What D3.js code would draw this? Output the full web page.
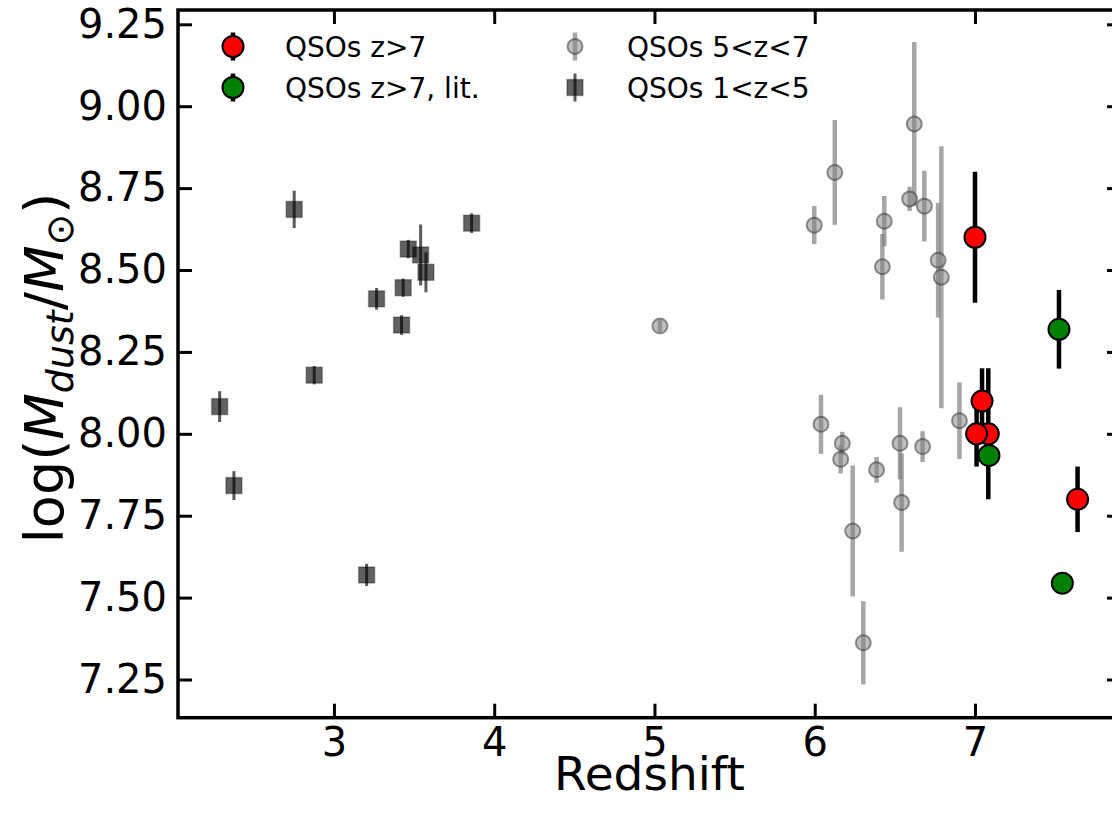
<!DOCTYPE html>
<html>
<head>
<meta charset="utf-8">
<script src="https://cdn.jsdelivr.net/npm/d3@7"></script>
<style>
  body { margin: 0; background: #fff; }
  svg { display: block; font-family: 'DejaVu Sans', sans-serif; }
  .axis text { font-size: 40px; fill: #000; }
  .axis line { stroke: #000; stroke-width: 3px; }
  .legend text { font-size: 28px; }
</style>
</head>
<body>
<div id="chart"></div>
<script>
// QSOs z>7 (this work)
const redZ   = [7.00, 7.083, 7.01, 7.044, 7.64];
const redM   = [8.60, 8.00, 8.00, 8.10, 7.80];
const redErr = [0.20, 0.20, 0.10, 0.10, 0.10];

// QSOs z>7, literature
const greenZ   = [7.087, 7.524, 7.545];
const greenM   = [7.934, 8.319, 7.544];
const greenErr = [0.03, 0.12, 0.0];

// QSOs 5<z<7
const midZ   = [5.034, 5.997, 6.125, 6.621, 6.592, 6.684, 6.434, 6.422, 6.77, 6.79,
                6.039, 6.172, 6.162, 6.386, 6.237, 6.303, 6.532, 6.542, 6.673, 6.903];
const midM   = [8.329, 8.637, 8.798, 8.946, 8.717, 8.695, 8.649, 8.51, 8.53, 8.478,
                8.029, 7.971, 7.922, 7.89, 7.703, 7.362, 7.971, 7.79, 7.961, 8.04];
const midErr = [0.02, 0.058, 0.16, 0.25, 0.037, 0.108, 0.077, 0.10, 0.175, 0.40,
                0.09, 0.035, 0.043, 0.039, 0.20, 0.127, 0.11, 0.15, 0.047, 0.117];

// QSOs 1<z<5
const lowZ   = [2.752, 3.859, 3.464, 3.541, 3.574, 3.432, 3.266, 3.422, 2.877, 2.287, 2.376, 3.204];
const lowM   = [8.685, 8.643, 8.564, 8.546, 8.493, 8.446, 8.412, 8.332, 8.179, 8.083, 7.842, 7.569];
const lowErr = [0.057, 0.03, 0.028, 0.093, 0.061, 0.028, 0.033, 0.03, 0.028, 0.047, 0.044, 0.034];

const xTicks = [3, 4, 5, 6, 7];
const yTicks = [7.25, 7.50, 7.75, 8.00, 8.25, 8.50, 8.75, 9.00, 9.25];

const legendLabels = ['QSOs z>7', 'QSOs z>7, lit.', 'QSOs 5<z<7', 'QSOs 1<z<5'];

class DustPlot {

  constructor(_config) {
    this.config = {
      parentElement: _config.parentElement,
      containerWidth: 1112,
      containerHeight: 816,
      // right spine sits just outside the picture, like the reference
      margin: { top: 10, right: -9, bottom: 98.3, left: 178 }
    };
    this.initVis();
  }

  initVis() {
    let vis = this;

    vis.width = vis.config.containerWidth - vis.config.margin.left - vis.config.margin.right;
    vis.height = vis.config.containerHeight - vis.config.margin.top - vis.config.margin.bottom;

    vis.xScale = d3.scaleLinear()
      .domain([2.027, 7.911])
      .range([0, vis.width]);

    vis.yScale = d3.scaleLinear()
      .domain([7.1334, 9.2937])
      .range([vis.height, 0]);

    vis.svg = d3.select(vis.config.parentElement).append('svg')
      .attr('width', vis.config.containerWidth)
      .attr('height', vis.config.containerHeight);

    vis.chart = vis.svg.append('g')
      .attr('transform', `translate(${vis.config.margin.left},${vis.config.margin.top})`);

    // ticks point inward on all four sides
    const fmtY = d3.format('.2f');
    vis.chart.append('g')
      .attr('class', 'axis x-axis')
      .attr('transform', `translate(0,${vis.height})`)
      .call(d3.axisBottom(vis.xScale).tickValues(xTicks).tickFormat(d3.format('d'))
        .tickSizeInner(-14).tickSizeOuter(0).tickPadding(10));

    vis.chart.append('g')
      .attr('class', 'axis')
      .call(d3.axisTop(vis.xScale).tickValues(xTicks).tickFormat('')
        .tickSizeInner(-14).tickSizeOuter(0));

    vis.chart.append('g')
      .attr('class', 'axis y-axis')
      .call(d3.axisLeft(vis.yScale).tickValues(yTicks).tickFormat(fmtY)
        .tickSizeInner(-14).tickSizeOuter(0).tickPadding(11));

    vis.chart.append('g')
      .attr('class', 'axis')
      .attr('transform', `translate(${vis.width},0)`)
      .call(d3.axisRight(vis.yScale).tickValues(yTicks).tickFormat('')
        .tickSizeInner(-14).tickSizeOuter(0));

    vis.chart.selectAll('.axis .domain').remove();
    vis.chart.selectAll('.axis text').attr('font-family', 'DejaVu Sans');

    vis.chart.append('rect')
      .attr('width', vis.width)
      .attr('height', vis.height)
      .attr('fill', 'none')
      .attr('stroke', '#000')
      .attr('stroke-width', 3.5);

    // axis titles
    vis.svg.append('text')
      .attr('x', vis.config.margin.left + vis.width / 2)
      .attr('y', 790)
      .attr('text-anchor', 'middle')
      .attr('font-size', 47)
      .text('Redshift');

    const yl = vis.svg.append('text')
      .attr('transform', `translate(63,${vis.config.margin.top + vis.height / 2 + 4}) rotate(-90)`)
      .attr('text-anchor', 'middle')
      .attr('font-size', 54);
    yl.append('tspan').text('log(');
    yl.append('tspan').attr('font-style', 'italic').text('M');
    yl.append('tspan').attr('font-style', 'italic').attr('font-size', 38).attr('dy', 10).text('dust');
    yl.append('tspan').attr('dy', -10).text('/');
    yl.append('tspan').attr('font-style', 'italic').text('M');
    yl.append('tspan').attr('font-size', 38).attr('dy', 10).text('\u2299');
    yl.append('tspan').attr('dy', -10).text(')');

    vis.renderVis();
  }

  renderVis() {
    let vis = this;
    const zip = (zs, ms, es) => zs.map((z, i) => ({ z: z, m: ms[i], e: es[i] }));

    vis.lowData = zip(lowZ, lowM, lowErr);
    vis.midData = zip(midZ, midM, midErr);
    vis.redData = zip(redZ, redM, redErr);
    vis.greenData = zip(greenZ, greenM, greenErr);

    const bars = (cls, data, color, width, opacity) => {
      vis.chart.selectAll('.' + cls)
        .data(data)
        .join('line')
          .attr('class', cls)
          .attr('x1', d => vis.xScale(d.z))
          .attr('x2', d => vis.xScale(d.z))
          .attr('y1', d => vis.yScale(d.m - d.e))
          .attr('y2', d => vis.yScale(d.m + d.e))
          .attr('stroke', color)
          .attr('stroke-width', width)
          .attr('stroke-opacity', opacity);
    };

    // 1<z<5 squares
    bars('lowBar', vis.lowData, '#000', 3, 0.65);
    vis.chart.selectAll('.lowPt')
      .data(vis.lowData)
      .join('rect')
        .attr('class', 'lowPt')
        .attr('x', d => vis.xScale(d.z) - 8)
        .attr('y', d => vis.yScale(d.m) - 8)
        .attr('width', 16)
        .attr('height', 16)
        .attr('fill', '#000')
        .attr('fill-opacity', 0.62)
        .attr('stroke', '#000')
        .attr('stroke-opacity', 0.3)
        .attr('stroke-width', 1.5);

    // 5<z<7 circles
    bars('midBar', vis.midData, '#808080', 4.5, 0.7);
    vis.chart.selectAll('.midPt')
      .data(vis.midData)
      .join('circle')
        .attr('class', 'midPt')
        .attr('cx', d => vis.xScale(d.z))
        .attr('cy', d => vis.yScale(d.m))
        .attr('r', 7.5)
        .attr('fill', '#808080')
        .attr('fill-opacity', 0.5)
        .attr('stroke', '#303030')
        .attr('stroke-opacity', 0.5)
        .attr('stroke-width', 2);

    // z>7
    bars('redBar', vis.redData, '#000', 4.5, 1);
    vis.chart.selectAll('.redPt')
      .data(vis.redData)
      .join('circle')
        .attr('class', 'redPt')
        .attr('cx', d => vis.xScale(d.z))
        .attr('cy', d => vis.yScale(d.m))
        .attr('r', 10.5)
        .attr('fill', '#ff0000')
        .attr('stroke', '#000')
        .attr('stroke-width', 2);

    bars('greenBar', vis.greenData, '#000', 4.5, 1);
    vis.chart.selectAll('.greenPt')
      .data(vis.greenData)
      .join('circle')
        .attr('class', 'greenPt')
        .attr('cx', d => vis.xScale(d.z))
        .attr('cy', d => vis.yScale(d.m))
        .attr('r', 10.5)
        .attr('fill', '#008000')
        .attr('stroke', '#000')
        .attr('stroke-width', 2);

    // legend (two columns, no frame)
    const legend = vis.svg.append('g').attr('class', 'legend');
    const items = [
      { x: 233, y: 46.5, type: 'red' },
      { x: 233, y: 87.5, type: 'green' },
      { x: 575, y: 46.5, type: 'mid' },
      { x: 575, y: 87.5, type: 'low' }
    ];
    items.forEach((it, i) => {
      const g = legend.append('g').attr('transform', `translate(${it.x},${it.y})`);
      if (it.type === 'red' || it.type === 'green') {
        g.append('line').attr('y1', -14).attr('y2', 14).attr('stroke', '#000').attr('stroke-width', 4.5);
        g.append('circle').attr('r', 10.5)
          .attr('fill', it.type === 'red' ? '#ff0000' : '#008000')
          .attr('stroke', '#000').attr('stroke-width', 2);
      } else if (it.type === 'mid') {
        g.append('line').attr('y1', -14).attr('y2', 14)
          .attr('stroke', '#808080').attr('stroke-width', 4.5).attr('stroke-opacity', 0.7);
        g.append('circle').attr('r', 7.5)
          .attr('fill', '#808080').attr('fill-opacity', 0.5)
          .attr('stroke', '#303030').attr('stroke-opacity', 0.5).attr('stroke-width', 2);
      } else {
        g.append('line').attr('y1', -14).attr('y2', 14)
          .attr('stroke', '#000').attr('stroke-width', 3).attr('stroke-opacity', 0.65);
        g.append('rect').attr('x', -8).attr('y', -8).attr('width', 16).attr('height', 16)
          .attr('fill', '#000').attr('fill-opacity', 0.62)
          .attr('stroke', '#000').attr('stroke-opacity', 0.3).attr('stroke-width', 1.5);
      }
      legend.append('text')
        .attr('x', it.x + 52)
        .attr('y', it.y)
        .attr('dy', '0.36em')
        .text(legendLabels[i]);
    });
  }
}

new DustPlot({ parentElement: '#chart' });
</script>
</body>
</html>
